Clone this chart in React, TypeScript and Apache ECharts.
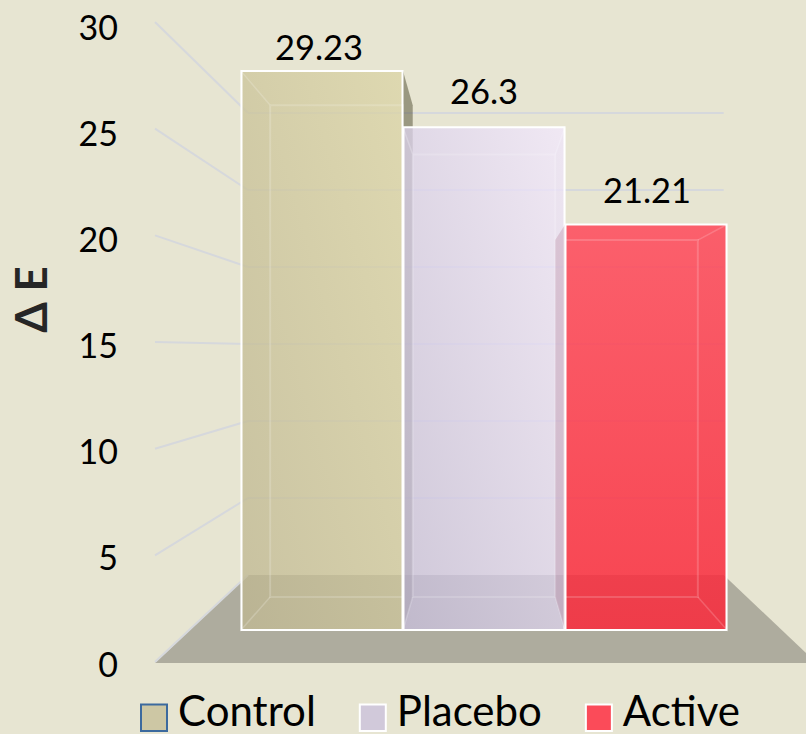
import React, { useEffect, useRef } from "react";
import * as echarts from "echarts";

const categories = ["Control", "Placebo", "Active"];
const values = [29.23, 26.3, 21.21];
const valueLabels = ["29.23", "26.3", "21.21"];
const tickValues = [0, 5, 10, 15, 20, 25, 30];

const FONT = 'Lato, sans-serif';
const BG = "#e7e5d2";

const barStyles = [
  {
    top: "rgba(219,212,165,0.75)",
    bottom: "rgba(192,184,146,0.75)",
    legend: "#cdc7a4",
    legendBorder: "#3c6a9e",
    outer: "rgba(60,58,30,0.45)",
    labelLift: 25,
    labelShift: -3,
  },
  {
    top: "rgba(243,233,255,0.75)",
    bottom: "rgba(199,190,219,0.75)",
    legend: "#d1c9da",
    legendBorder: "#ffffff",
    outer: "rgba(60,58,30,0.4)",
    labelLift: 37,
    labelShift: 0,
  },
  {
    top: "rgba(255,72,90,0.85)",
    bottom: "rgba(250,40,58,0.85)",
    legend: "#fb4b59",
    legendBorder: "#ffffff",
    outer: "rgba(120,20,60,0.15)",
    labelLift: 35,
    labelShift: 1,
  },
];

// perspective of the box faces
const DEPTH = 0.88;
const VANISH_VALUE = 14.4;

function barRender(i: number) {
  return (params: any, api: any) => {
    const st = barStyles[i];
    const idx = api.value(0);
    const val = api.value(1);
    const band = api.size([1, 0])[0];
    const c = api.coord([idx, val]);
    const b = api.coord([idx, 0]);
    const midPt = api.coord([1, VANISH_VALUE]);
    const project = (x: number, y: number) => [
      midPt[0] + (x - midPt[0]) * DEPTH,
      midPt[1] + (y - midPt[1]) * DEPTH,
    ];
    const l = c[0] - band / 2;
    const r = c[0] + band / 2;
    const t = c[1];
    const bo = b[1];
    const tlB = project(l, t);
    const trB = project(r, t);
    const blB = project(l, bo);
    const brB = project(r, bo);
    const edge = "rgba(255,255,255,0.17)";
    const face = (pts: number[][], fill: string, stroke = true) => ({
      type: "polygon",
      shape: { points: pts },
      style: { fill, stroke: stroke ? edge : "none", lineWidth: 1.5 },
    });
    const leftOuter = tlB[0] < l;
    const rightOuter = trB[0] > r;
    const leftFill = leftOuter ? st.outer : "rgba(110,100,90,0.06)";
    const rightFill = rightOuter ? st.outer : "rgba(110,100,90,0.06)";
    const grad =
      i === 2
        ? new echarts.graphic.LinearGradient(0, 0, 0, 1, [
            { offset: 0, color: st.top },
            { offset: 1, color: st.bottom },
          ])
        : new echarts.graphic.LinearGradient(1, 0, 0, 1, [
            { offset: 0, color: st.top },
            { offset: 1, color: st.bottom },
          ]);
    return {
      type: "group",
      children: [
        face([[l, t], tlB, blB, [l, bo]], leftFill, !leftOuter),
        face([[r, t], trB, brB, [r, bo]], rightFill, !rightOuter),
        {
          type: "rect",
          shape: { x: l + 0.5, y: t, width: r - l - 1, height: bo - t },
          style: { fill: grad, stroke: "#ffffff", lineWidth: 2 },
        },
        {
          type: "polyline",
          shape: {
            points: [
              leftOuter ? [l, tlB[1]] : tlB,
              rightOuter ? [r, trB[1]] : trB,
              rightOuter ? [r, brB[1]] : brB,
              leftOuter ? [l, blB[1]] : blB,
              leftOuter ? [l, tlB[1]] : tlB,
            ],
          },
          style: { fill: "none", stroke: edge, lineWidth: 2 },
        },
        {
          type: "line",
          shape: { x1: l, y1: t, x2: tlB[0], y2: tlB[1] },
          style: { stroke: leftOuter ? "none" : edge, lineWidth: 1.5 },
        },
        {
          type: "line",
          shape: { x1: r, y1: t, x2: trB[0], y2: trB[1] },
          style: { stroke: rightOuter ? "none" : edge, lineWidth: 1.5 },
        },
        {
          type: "line",
          shape: { x1: l, y1: bo, x2: blB[0], y2: blB[1] },
          style: { stroke: leftOuter ? "none" : edge, lineWidth: 1.5 },
        },
        {
          type: "line",
          shape: { x1: r, y1: bo, x2: brB[0], y2: brB[1] },
          style: { stroke: rightOuter ? "none" : edge, lineWidth: 1.5 },
        },
        {
          type: "text",
          x: c[0] + st.labelShift,
          y: t - st.labelLift,
          style: {
            text: valueLabels[i],
            font: `34.5px ${FONT}`,
            fill: "#000000",
            align: "center",
            verticalAlign: "middle",
          },
        },
      ],
    };
  };
}

function wallRender(params: any, api: any) {
  const t = api.value(0);
  const front = api.coord([0, t]);
  const backX = api.coord([1, t])[0];
  const rightX = api.coord([6.115, t])[0];
  const floorFront = api.coord([0, 0]);
  const backZero = floorFront[1] - 87;
  const backY = backZero - t * 15.4;
  const lineStyle = { stroke: "#d6d8dc", lineWidth: 2 };
  const children: any[] = [];
  if (t === 0) {
    children.push({
      type: "polygon",
      shape: {
        points: [
          [floorFront[0], floorFront[1] + 1],
          [backX, backY],
          [rightX, backY],
          [rightX + backX - floorFront[0], floorFront[1] + 1],
        ],
      },
      style: { fill: "#aeac9e", stroke: "none" },
    });
  }
  children.push({
    type: "line",
    shape: { x1: front[0], y1: front[1], x2: backX, y2: backY },
    style: lineStyle,
  });
  if (t > 0) {
    children.push({
      type: "line",
      shape: { x1: backX, y1: backY, x2: rightX, y2: backY },
      style: lineStyle,
    });
  }
  return { type: "group", children };
}

export default function App() {
  const ref = useRef<HTMLDivElement>(null);
  useEffect(() => {
    document.body.style.margin = "0";
    const chart = echarts.init(ref.current!, undefined, { renderer: "svg" });
    chart.setOption({
      animation: false,
      backgroundColor: BG,
      grid: [
        { left: 155, top: 26, width: 600, height: 637 },
        { left: 155, top: 22, width: 93, height: 640 },
        { left: 241, top: 56.4, width: 486, height: 573.6 },
      ],
      xAxis: [
        { gridIndex: 0, type: "value", show: false, min: 0, max: 1 },
        { gridIndex: 1, type: "value", show: false, min: 0, max: 1 },
        { gridIndex: 2, type: "category", show: false, data: categories },
      ],
      yAxis: [
        {
          gridIndex: 0,
          type: "value",
          min: 0,
          max: 30,
          interval: 5,
          axisLine: { show: false },
          axisTick: { show: false },
          splitLine: { show: false },
          axisLabel: {
            margin: 38,
            fontFamily: FONT,
            fontSize: 34,
            color: "#000000",
            align: "right",
            padding: [0, 17, 0, 0],
          },
          name: "\u0394 E",
          nameLocation: "middle",
          nameRotate: 90,
          nameGap: 121,
          nameTextStyle: {
            fontFamily: FONT,
            fontSize: 44,
            fontWeight: "bold",
            color: "#262626",
            padding: [0, 0, 0, 90],
          },
        },
        { gridIndex: 1, type: "value", show: false, min: 0, max: 30 },
        { gridIndex: 2, type: "value", show: false, min: 0, max: 30 },
      ],
      legend: {
        left: 135,
        top: 683,
        itemWidth: 26,
        itemHeight: 42,
        itemGap: 43,
        selectedMode: false,
        textStyle: {
          fontFamily: FONT,
          fontSize: 42,
          color: "#000000",
          padding: [0, 0, 14, 6],
        },
        data: categories.map((name, i) => ({
          name,
          icon: "path://M0 0L0 0ZM0 15.5H26V42H0Z",
          itemStyle: {
            color: barStyles[i].legend,
            borderColor: barStyles[i].legendBorder,
            borderWidth: 2,
          },
        })),
      },
      series: [
        {
          type: "custom",
          name: "walls",
          xAxisIndex: 1,
          yAxisIndex: 1,
          clip: false,
          z: 1,
          data: tickValues.map((v) => [v]),
          encode: { y: 0 },
          renderItem: wallRender,
          silent: true,
        },
        ...categories.map((name, i) => ({
          type: "custom",
          name,
          xAxisIndex: 2,
          yAxisIndex: 2,
          clip: false,
          z: 2 + i,
          itemStyle: { color: barStyles[i].legend },
          data: [[i, values[i]]],
          encode: { x: 0, y: 1 },
          renderItem: barRender(i),
          silent: true,
        })),
      ],
    });
    return () => chart.dispose();
  }, []);
  return (
    <div
      ref={ref}
      style={{ position: "absolute", left: 0, top: 0, width: 806, height: 734 }}
    />
  );
}
